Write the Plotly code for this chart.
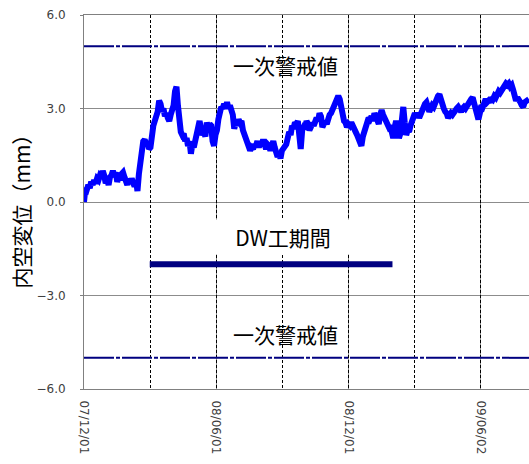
import pandas as pd
import plotly.graph_objects as go

# Measurement period and readings (one reading every 2 days), mm
START_DATE = "2007-12-01"
STEP_DAYS = 2
displacement_mm = [
    0.00, 0.45, 0.40, 0.55, 0.45, 0.65, 0.55, 0.70, 0.60, 0.75,
    0.70, 0.85, 0.80, 1.00, 0.85, 0.60, 0.70, 0.55, 0.80, 0.85,
    1.00, 0.85, 0.95, 0.65, 0.80, 0.70, 0.90, 0.95, 0.80, 0.70,
    0.55, 0.75, 0.60, 0.75, 0.65, 0.50, 0.70, 0.35, 0.90, 1.40,
    1.70, 1.95, 2.00, 1.85, 1.95, 1.70, 1.75, 2.20, 2.45, 2.60,
    2.70, 2.90, 3.25, 3.15, 2.90, 3.00, 2.75, 2.85, 2.70, 2.60,
    2.80, 2.95, 3.10, 3.55, 3.70, 3.10, 2.50, 2.25, 2.15, 2.20,
    1.95, 2.05, 1.80, 1.95, 1.55, 1.85, 1.75, 2.00, 2.10, 2.30,
    2.60, 2.35, 2.15, 2.25, 2.10, 2.55, 2.35, 2.50, 2.45, 1.95,
    1.80, 2.15, 2.30, 2.65, 2.90, 3.05, 3.00, 3.15, 3.05, 3.20,
    3.00, 3.10, 2.95, 2.80, 2.35, 2.55, 2.45, 2.65, 2.55, 2.60,
    2.30, 2.15, 2.00, 1.90, 1.70, 1.65, 1.75, 1.70, 1.85, 1.80,
    1.95, 1.75, 1.90, 1.85, 2.00, 1.80, 1.70, 1.85, 1.80, 1.65,
    1.90, 1.95, 1.75, 1.60, 1.45, 1.55, 1.40, 1.65, 1.70, 1.80,
    1.85, 2.05, 2.25, 2.15, 2.45, 2.35, 2.55, 2.50, 2.60, 2.15,
    1.70, 2.30, 2.40, 2.35, 2.60, 2.50, 2.30, 2.40, 2.55, 2.45,
    2.65, 2.70, 2.60, 2.85, 2.75, 2.40, 2.50, 2.60, 2.50, 2.75,
    2.80, 2.85, 2.95, 3.00, 3.10, 3.20, 3.40, 3.30, 2.95, 2.75,
    2.60, 2.55, 2.40, 2.50, 2.45, 2.55, 2.40, 2.35, 2.25, 2.15,
    2.05, 1.95, 1.80, 2.10, 2.30, 2.40, 2.65, 2.70, 2.65, 2.75,
    2.60, 2.85, 2.75, 2.55, 2.50, 2.80, 2.95, 2.80, 2.70, 2.60,
    2.50, 2.40, 2.45, 2.25, 2.05, 2.40, 2.60, 2.45, 2.05, 2.20,
    2.90, 3.05, 2.55, 2.15, 2.30, 2.25, 2.45, 2.65, 2.80, 2.85,
    2.75, 2.85, 2.70, 2.85, 2.95, 3.05, 3.15, 3.20, 2.95, 2.90,
    3.00, 3.10, 3.05, 3.20, 3.25, 3.40, 3.45, 3.25, 3.10, 3.00,
    2.90, 2.85, 2.70, 2.75, 2.85, 2.80, 2.90, 2.95, 3.00, 3.05,
    2.95, 2.90, 3.00, 3.05, 3.00, 3.10, 3.15, 3.20, 3.30, 3.35,
    3.20, 3.10, 2.90, 2.65, 2.85, 3.10, 3.05, 3.25, 3.30, 3.20,
    3.25, 3.20, 3.35, 3.30, 3.40, 3.35, 3.45, 3.55, 3.50, 3.60,
    3.65, 3.70, 3.80, 3.75, 3.80, 3.70, 3.75, 3.60, 3.35, 3.25,
    3.35, 3.30, 3.20, 3.10, 3.05, 3.20, 3.25, 3.30, 3.30,
]

# Alert thresholds (±) and the DW construction period
ALERT_LEVEL_MM = 5.0
ALERT_LABEL = "一次警戒値"
DW_PERIOD = ["2008-03-01", "2009-01-31"]
DW_LEVEL_MM = -2.0
DW_LABEL = "DW工期間"

# Axis settings
X_END = "2009-08-08"
MAJOR_DAYS = 183
Y_RANGE = [-6.0, 6.0]
Y_STEP = 3.0
Y_TITLE = "内空変位（mm）"

DAY_MS = 86400000
dates = pd.date_range(START_DATE, periods=len(displacement_mm), freq=f"{STEP_DAYS}D")

NAVY = "#000080"
GRID = "#8c8c8c"
TICK_FONT = dict(family="DejaVu Sans", size=12, color="#404040")
CJK = "Noto Sans CJK JP"

fig = go.Figure()

# Alert threshold lines
for level in (ALERT_LEVEL_MM, -ALERT_LEVEL_MM):
    fig.add_trace(go.Scatter(
        x=[START_DATE, X_END], y=[level, level], mode="lines",
        line=dict(color=NAVY, width=2, dash="30px,2px,4px,2px"),
        hoverinfo="skip",
    ))

# DW construction period bar
fig.add_trace(go.Scatter(
    x=DW_PERIOD, y=[DW_LEVEL_MM, DW_LEVEL_MM], mode="lines",
    line=dict(color=NAVY, width=6), hoverinfo="skip",
))

# Convergence displacement
fig.add_trace(go.Scatter(
    x=dates, y=displacement_mm, mode="lines",
    line=dict(color="#0000ff", width=6),
))

# Secondary x axis only used to draw the dashed quarter-period grid
fig.add_trace(go.Scatter(x=[START_DATE], y=[0], xaxis="x2", mode="markers",
                         marker=dict(opacity=0), hoverinfo="skip"))

fig.update_layout(
    width=529, height=464,
    margin=dict(l=84, r=0, t=15, b=75),
    plot_bgcolor="white", paper_bgcolor="white",
    showlegend=False,
    xaxis=dict(
        type="date", range=[START_DATE, X_END],
        tick0=START_DATE, dtick=MAJOR_DAYS * DAY_MS,
        tickformat="%y/%m/%d", tickangle=90, tickfont=TICK_FONT,
        ticks="", ticklabelstandoff=8,
        showgrid=True, gridcolor=GRID, gridwidth=1,
        showline=True, linecolor="#808080", linewidth=1, mirror=True,
        zeroline=False,
    ),
    xaxis2=dict(
        type="date", overlaying="x", matches="x", anchor="y",
        tick0=START_DATE, dtick=MAJOR_DAYS / 2 * DAY_MS,
        showgrid=True, gridcolor="#000000", gridwidth=1, griddash="3px,2px",
        showticklabels=False, ticks="", showline=False, zeroline=False,
    ),
    yaxis=dict(
        range=Y_RANGE, dtick=Y_STEP, tick0=0, tickformat=".1f",
        tickfont=TICK_FONT, ticks="outside", ticklen=3, tickcolor="#808080",
        ticklabelstandoff=12,
        showgrid=True, gridcolor=GRID, gridwidth=1,
        showline=True, linecolor="#808080", linewidth=1,
        zeroline=False,
    ),
)

# Vertical axis title
fig.add_annotation(xref="paper", yref="paper", x=-0.142, y=0.49,
                   xanchor="center", yanchor="middle", textangle=-90,
                   text=Y_TITLE, showarrow=False,
                   font=dict(family=CJK, size=21, color="#000000"))

label_font = dict(family=CJK, size=21, color="#000000")
fig.add_annotation(x="2008-09-05", y=ALERT_LEVEL_MM - 0.6, text=ALERT_LABEL,
                   showarrow=False, font=label_font)
fig.add_annotation(x="2008-09-05", y=-ALERT_LEVEL_MM + 0.75, text=ALERT_LABEL,
                   showarrow=False, font=label_font)
fig.add_annotation(x="2008-09-01", y=DW_LEVEL_MM + 0.88, text=DW_LABEL,
                   showarrow=False, font=label_font, bgcolor="white",
                   width=132, height=32)

fig.write_html("out.html")
